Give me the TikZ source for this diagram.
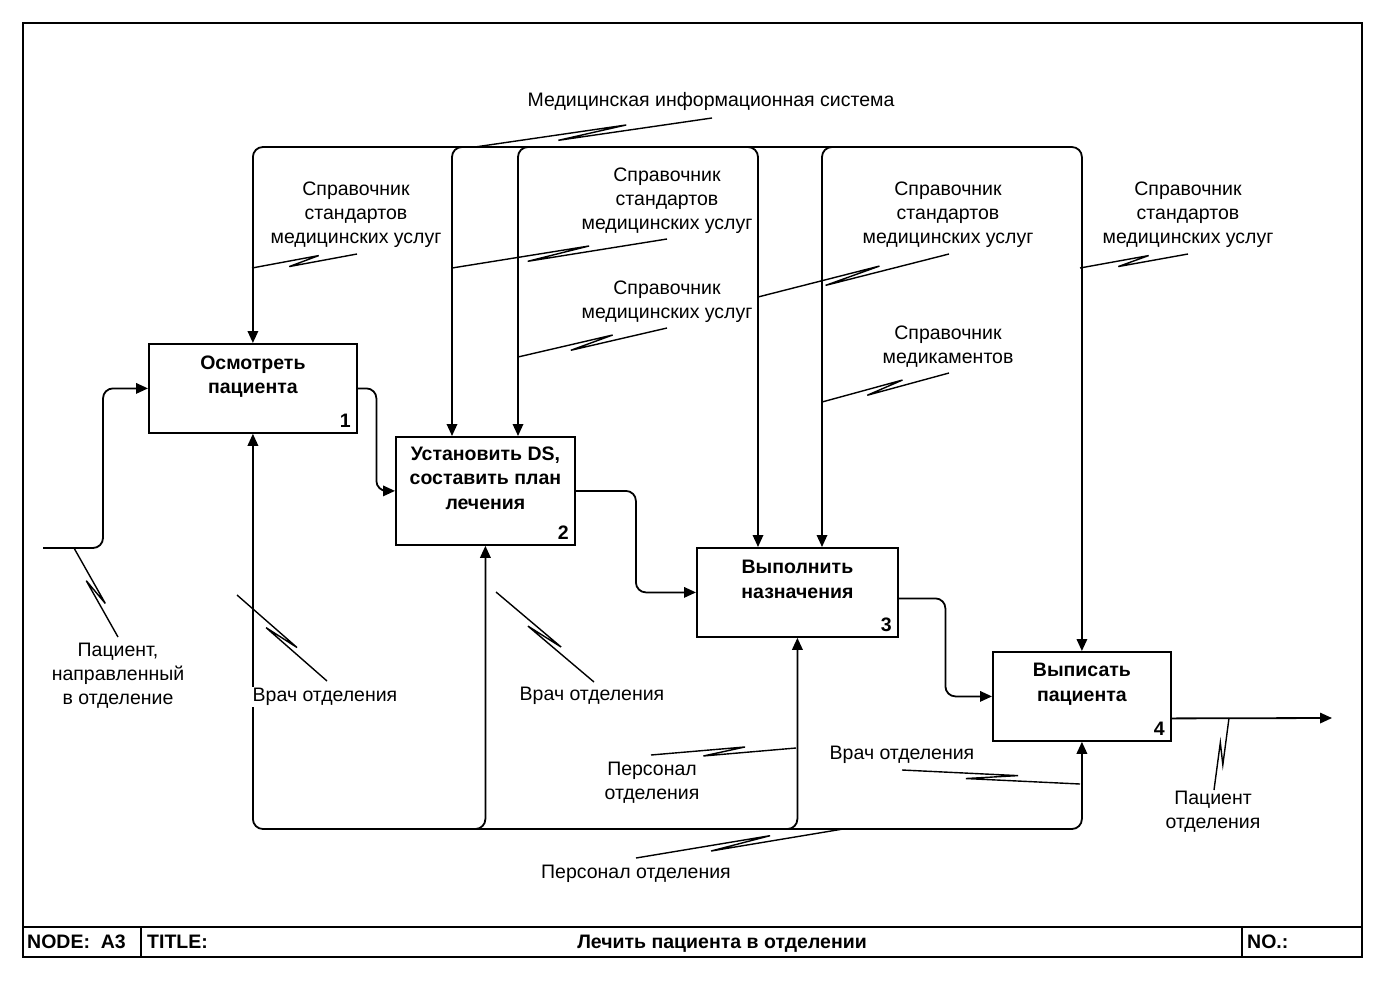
\documentclass[tikz,border=0pt]{standalone}
\usepackage{fontspec}
\setmainfont{Liberation Sans}
\usetikzlibrary{arrows.meta,calc}
\newcommand{\squig}[2]{\draw[sq] (#1) -- ($(#1)!0.64!(#2)!3.5pt!90:(#2)$) -- ($(#1)!0.35!(#2)!3.5pt!-90:(#2)$) -- (#2);}
\tikzset{
  arr/.style={line width=1.8pt, -{Triangle[length=12pt,width=10.5pt]}, rounded corners=10pt},
  ln/.style={line width=1.8pt},
  sq/.style={line width=1.4pt, line join=miter},
  box/.style={draw, line width=1.8pt, inner sep=0pt, anchor=north west},
  ttl/.style={font=\fontsize{19.5}{24.5}\selectfont\bfseries, align=center, inner sep=0pt},
  num/.style={font=\fontsize{19.5}{24}\selectfont\bfseries, inner sep=0pt, anchor=south east},
  lab/.style={font=\fontsize{19.5}{24}\selectfont, align=center, inner sep=1pt},
  foot/.style={font=\fontsize{19.5}{24}\selectfont\bfseries, inner sep=0pt},
}
\begin{document}
\begin{tikzpicture}[x=1pt,y=-1pt]
\useasboundingbox (0,0) rectangle (1386,980);
% frame
\draw[line width=1.8pt] (23,23) rectangle (1362,957);
\draw[line width=2.2pt] (23,927) -- (1362,927);
\draw[line width=1.5pt] (141,927) -- (141,957);
\draw[line width=1.5pt] (1242,927) -- (1242,957);
\node[foot, anchor=base west] (fnode) at (27,948) {NODE:\ \ A3};
\node[foot, anchor=base west] (ftitle) at (147,948) {TITLE:};
\node[foot, anchor=base] (fname) at (722,948) {Лечить пациента в отделении};
\node[foot, anchor=base west] (fno) at (1247,948) {NO.:};

% boxes
\node[box, minimum width=208pt, minimum height=89pt] (b1) at (148,343) {};
\node[box, minimum width=179pt, minimum height=108pt] (b2) at (395,436) {};
\node[box, minimum width=201pt, minimum height=89pt] (b3) at (696,547) {};
\node[box, minimum width=178pt, minimum height=89pt] (b4) at (992,651) {};
\node[ttl] (b1t) at ($(b1.center)+(0,-12)$) {Осмотреть\\пациента};
\node[ttl] (b2t) at ($(b2.center)+(0,-13)$) {Установить DS,\\составить план\\лечения};
\node[ttl] (b3t) at ($(b3.center)+(0,-13)$) {Выполнить\\назначения};
\node[ttl] (b4t) at ($(b4.center)+(0,-12)$) {Выписать\\пациента};
\node[num] (b1n) at ($(b1.south east)+(-7,-6)$) {1};
\node[num] (b2n) at ($(b2.south east)+(-7,-6)$) {2};
\node[num] (b3n) at ($(b3.south east)+(-7,-6)$) {3};
\node[num] (b4n) at ($(b4.south east)+(-7,-6)$) {4};

% control points
\coordinate (b2c1) at ($(b2.north west)+(57,0)$);
\coordinate (b2c2) at ($(b2.north west)+(123,0)$);
\coordinate (b3c1) at ($(b3.north west)+(62,0)$);
\coordinate (b3c2) at ($(b3.north west)+(126,0)$);
\coordinate (tl) at (262,147);
\coordinate (tr) at (1070,147);
\coordinate (bl) at (262,829);
\coordinate (br) at (1070,829);

% top control bundle
\draw[ln] (tl) -- (tr);
\draw[arr] (tl) -| (b1.north);
\draw[arr] (tr) -| (b2c1);
\draw[arr] (tr) -| (b2c2);
\draw[arr] (tl) -| (b3c1);
\draw[arr] (tr) -| (b3c2);
\draw[arr] (tl) -| (b4.north);

% bottom mechanism bundle
\draw[ln] (bl) -- (br);
\draw[arr] (br) -| (b1.south);
\draw[arr] (bl) -| (b2.south);
\draw[arr] (bl) -| (b3.south);
\draw[arr] (bl) -| (b4.south);

% inputs / outputs
\coordinate (in1) at (43,548);
\coordinate (in1k) at (103,548);
\draw[arr] (in1) -- (in1k) |- (b1.west);
\draw[arr] (b1.east) -| ($(b1.east)!0.5!(b2.west)$) |- (b2.west);
\draw[arr] (b2.east) -| ($(b2.east)!0.5!(b3.west)$) |- (b3.west);
\coordinate (b3o) at ($(b3.east)+(0,6)$);
\draw[arr] (b3o) -| ($(b3o)!0.5!(b4.west)$) |- (b4.west);
\coordinate (b4o) at ($(b4.east)+(0,22)$);
\coordinate (out) at (1332,718);
\draw[arr] (b4o) -- (out);

% squiggle end points
\coordinate (s1a) at (475,147);  \coordinate (s1b) at (712,118);
\coordinate (s2a) at (252,268);  \coordinate (s2b) at (357,254);
\coordinate (s3a) at (452,268);  \coordinate (s3b) at (667,239);
\coordinate (s4a) at (518,357);  \coordinate (s4b) at (667,328);
\coordinate (s5a) at (758,297);  \coordinate (s5b) at (949,254);
\coordinate (s6a) at (822,402);  \coordinate (s6b) at (949,373);
\coordinate (s7a) at (1080,268); \coordinate (s7b) at (1188,254);
\coordinate (s8a) at (74,548);   \coordinate (s8b) at (118,637);
\coordinate (s9a) at (237,595);  \coordinate (s9b) at (327,681);
\coordinate (s10a) at (496,592); \coordinate (s10b) at (594,682);
\coordinate (s11a) at (796,748); \coordinate (s11b) at (651,755);
\coordinate (s12a) at (1080,784);\coordinate (s12b) at (902,770);
\coordinate (s13a) at (843,829); \coordinate (s13b) at (636,858);
\coordinate (s14a) at (1229,718);\coordinate (s14b) at (1214,790);
\squig{s1a}{s1b}
\squig{s2a}{s2b}
\squig{s3a}{s3b}
\squig{s4a}{s4b}
\squig{s5a}{s5b}
\squig{s6a}{s6b}
\squig{s7a}{s7b}
\squig{s8a}{s8b}
\squig{s9a}{s9b}
\squig{s10a}{s10b}
\squig{s11a}{s11b}
\squig{s12a}{s12b}
\squig{s13a}{s13b}
\squig{s14a}{s14b}

% labels
\node[lab] (l1) at (711,101) {Медицинская информационная система};
\node[lab] (l2) at (356,215) {Справочник\\стандартов\\медицинских услуг};
\node[lab] (l3) at (667,201) {Справочник\\стандартов\\медицинских услуг};
\node[lab] (l4) at (667,302) {Справочник\\медицинских услуг};
\node[lab] (l5) at (948,215) {Справочник\\стандартов\\медицинских услуг};
\node[lab] (l6) at (948,347) {Справочник\\медикаментов};
\node[lab] (l7) at (1188,215) {Справочник\\стандартов\\медицинских услуг};
\node[lab] (l8) at (118,676) {Пациент,\\направленный\\в отделение};
\node[lab, fill=white] (l9) at (325,697) {Врач отделения};
\node[lab] (l10) at (592,696) {Врач отделения};
\node[lab] (l11) at (652,783) {Персонал\\отделения};
\node[lab] (l12) at (902,755) {Врач отделения};
\node[lab] (l13) at (636,874) {Персонал отделения};
\node[lab] (l14) at (1213,812) {Пациент\\отделения};
\end{tikzpicture}
\end{document}
